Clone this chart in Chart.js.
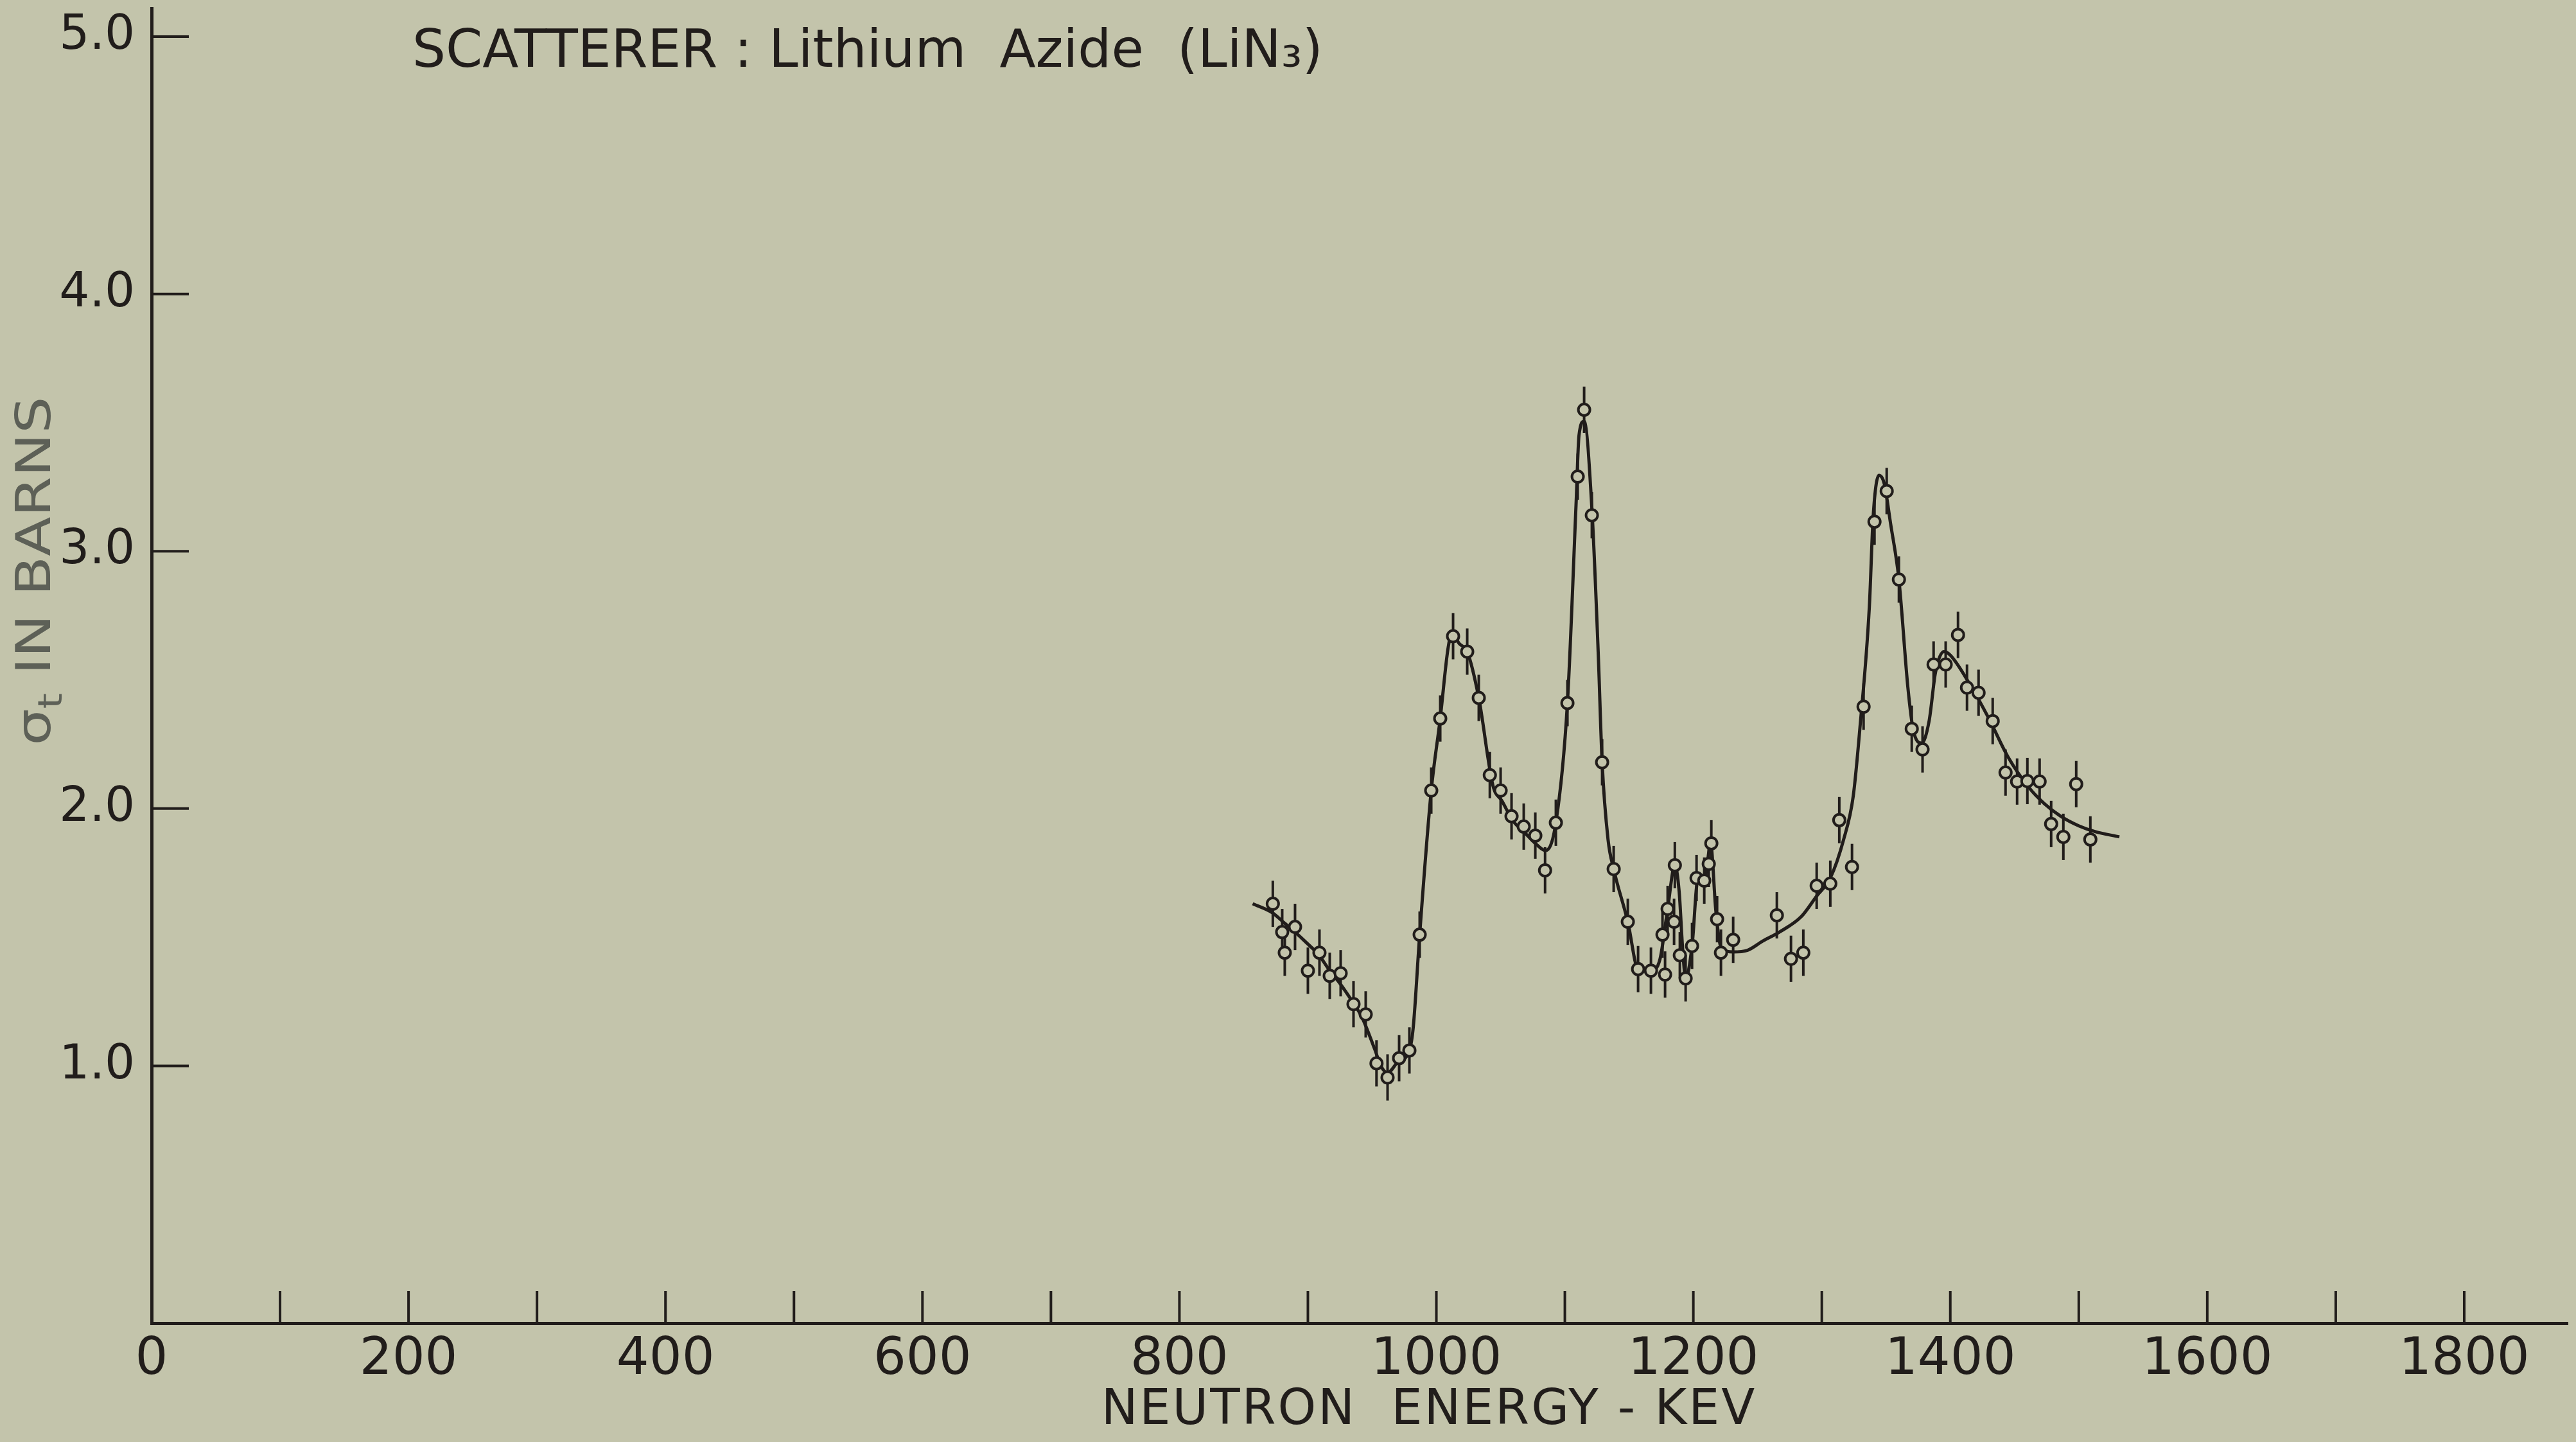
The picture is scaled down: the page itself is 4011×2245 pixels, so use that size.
<!DOCTYPE html>
<html>
<head>
<meta charset="utf-8">
<title>Scatterer: Lithium Azide (LiN3)</title>
<script src="https://cdn.jsdelivr.net/npm/chart.js@4.4.1/dist/chart.umd.min.js"></script>
<style>
  html, body { margin: 0; padding: 0; background: #c3c4ab; }
  #chart { display: block; }
</style>
</head>
<body>
<canvas id="chart" width="4011" height="2245"></canvas>
<script>
// measured points (neutron energy in keV, total cross section in barns)
const pointEnergy = [
    872.7, 880, 882, 890, 900, 909, 917, 925.5, 935.5, 945,
    953.4, 962, 971, 979, 987, 996, 1003, 1013, 1024, 1033,
    1041.6, 1050, 1058.5, 1068, 1077, 1084.6, 1093, 1102, 1110, 1115,
    1121, 1129, 1138, 1149, 1157, 1167, 1176, 1178, 1180, 1185,
    1185.6, 1189.5, 1194, 1199, 1202.5, 1208.5, 1212, 1214, 1218.5, 1221.5,
    1231, 1265, 1276, 1285.6, 1296, 1306.6, 1313.6, 1323.5, 1332.5, 1341,
    1350.5, 1360, 1370, 1378.4, 1387, 1396.4, 1406, 1413, 1422, 1433,
    1443, 1452, 1460, 1469.5, 1478.5, 1488, 1498, 1509
];
const pointSigma = [
    1.63, 1.52, 1.44, 1.54, 1.37, 1.44, 1.35, 1.36, 1.24, 1.20,
    1.01, 0.955, 1.03, 1.06, 1.51, 2.07, 2.35, 2.67, 2.61, 2.43,
    2.13, 2.07, 1.97, 1.93, 1.895, 1.76, 1.945, 2.41, 3.29, 3.55,
    3.14, 2.18, 1.765, 1.56, 1.376, 1.37, 1.51, 1.355, 1.61, 1.56,
    1.78, 1.43, 1.34, 1.466, 1.73, 1.72, 1.785, 1.865, 1.57, 1.44,
    1.49, 1.585, 1.416, 1.44, 1.70, 1.708, 1.955, 1.773, 2.396, 3.115,
    3.234, 2.89, 2.31, 2.23, 2.56, 2.56, 2.675, 2.47, 2.45, 2.34,
    2.14, 2.105, 2.107, 2.105, 1.94, 1.89, 2.095, 1.88
];
const errSigma = 0.09;

// hand drawn smooth curve through the points
const curveEnergy = [
    857, 872, 882, 890, 898.6, 908.6, 917, 925, 935, 942,
    952, 957, 962, 970, 979, 982, 987, 996, 1003, 1009,
    1012, 1018, 1024, 1033, 1044, 1051, 1060, 1068, 1078, 1085,
    1093, 1102, 1108.7, 1111, 1115, 1121, 1126, 1129, 1133.6, 1138,
    1149, 1157, 1167, 1174, 1180, 1185.6, 1189, 1191.6, 1194, 1199,
    1203.5, 1208.5, 1213.5, 1217.5, 1221.6, 1231, 1242, 1254, 1267, 1284,
    1296, 1306.6, 1317, 1324.5, 1329.6, 1337, 1340, 1344.5, 1348.5, 1353.6,
    1360, 1367, 1371, 1377.7, 1383.5, 1388.5, 1395, 1400, 1416.7, 1430,
    1445, 1461.5, 1473, 1486, 1500, 1513, 1531.6
];
const curveSigma = [
    1.63, 1.596, 1.554, 1.52, 1.48, 1.43, 1.37, 1.32, 1.247, 1.19,
    1.065, 0.998, 0.973, 1.015, 1.06, 1.15, 1.51, 2.07, 2.35, 2.62,
    2.68, 2.64, 2.61, 2.43, 2.09, 2.03, 1.95, 1.91, 1.86, 1.837,
    1.945, 2.41, 3.18, 3.45, 3.505, 3.17, 2.6, 2.18, 1.88, 1.765,
    1.56, 1.376, 1.37, 1.414, 1.61, 1.78, 1.675, 1.46, 1.34, 1.466,
    1.72, 1.72, 1.86, 1.604, 1.46, 1.443, 1.449, 1.485, 1.52, 1.58,
    1.66, 1.73, 1.88, 2.05, 2.31, 2.785, 3.137, 3.295, 3.264, 3.105,
    2.89, 2.47, 2.31, 2.254, 2.34, 2.53, 2.61, 2.596, 2.47, 2.35,
    2.2, 2.08, 2.02, 1.97, 1.933, 1.91, 1.89
];

// labelled ticks
const xLabelValues = [0, 200, 400, 600, 800, 1000, 1200, 1400, 1600, 1800];
const yLabelValues = [1, 2, 3, 4, 5];

const inkColor = '#211d1b';
const paperColor = '#c3c4ab';

Chart.defaults.font.family = "'DejaVu Sans', sans-serif";

const sketchPlugin = {
    id: 'sketch',
    // error bars go under the open circles, over the curve
    beforeDatasetDraw(chart, args) {
        if (args.index !== 0) return;
        const ctx = chart.ctx;
        const x = chart.scales.x, y = chart.scales.y;
        ctx.save();
        ctx.strokeStyle = inkColor;
        ctx.lineWidth = 4;
        for (let i = 0; i < pointEnergy.length; i++) {
            const px = x.getPixelForValue(pointEnergy[i]);
            ctx.beginPath();
            ctx.moveTo(px, y.getPixelForValue(pointSigma[i] - errSigma));
            ctx.lineTo(px, y.getPixelForValue(pointSigma[i] + errSigma));
            ctx.stroke();
        }
        ctx.restore();
    },
    afterDraw(chart) {
        const ctx = chart.ctx;
        const x = chart.scales.x, y = chart.scales.y;
        const area = chart.chartArea;
        ctx.save();
        ctx.strokeStyle = inkColor;
        ctx.lineWidth = 4;

        // tick marks point into the plot
        x.ticks.forEach(t => {
            if (t.value === 0) return;
            const px = x.getPixelForValue(t.value);
            ctx.beginPath();
            ctx.moveTo(px, area.bottom);
            ctx.lineTo(px, area.bottom - 50);
            ctx.stroke();
        });
        y.ticks.forEach(t => {
            if (t.value === 0) return;
            const py = y.getPixelForValue(t.value);
            ctx.beginPath();
            ctx.moveTo(area.left, py);
            ctx.lineTo(area.left + 58, py);
            ctx.stroke();
        });

        // title inside the plot
        ctx.fillStyle = inkColor;
        ctx.font = "82px 'DejaVu Sans'";
        ctx.textAlign = 'left';
        ctx.textBaseline = 'alphabetic';
        ctx.fillText('SCATTERER : Lithium  Azide  (LiN\u2083)', area.left + 406, 104);

        // x axis title
        ctx.font = "76px 'DejaVu Sans'";
        ctx.textAlign = 'center';
        ctx.letterSpacing = '3px';
        ctx.fillText('NEUTRON  ENERGY - KEV', 2225, 2217);
        ctx.letterSpacing = '0px';

        // y axis title, sigma with subscript t, stretched along the text
        ctx.fillStyle = '#5d6057';
        ctx.translate(78, 889);
        ctx.rotate(-Math.PI / 2);
        ctx.scale(1.2, 1);
        const big = "75px 'DejaVu Sans'";
        const small = "52px 'DejaVu Sans'";
        ctx.font = big;
        const wSig = ctx.measureText('\u03c3').width;
        const wRest = ctx.measureText(' IN BARNS').width;
        ctx.font = small;
        const wT = ctx.measureText('t').width;
        let cx = -(wSig + wT + wRest) / 2;
        ctx.textAlign = 'left';
        ctx.font = big;
        ctx.fillText('\u03c3', cx, 0);
        cx += wSig;
        ctx.font = small;
        ctx.fillText('t', cx, 18);
        cx += wT;
        ctx.font = big;
        ctx.fillText(' IN BARNS', cx, 0);
        ctx.restore();
    }
};

new Chart(document.getElementById('chart'), {
    type: 'scatter',
    data: {
        datasets: [{
            label: 'measured',
            order: 0,
            data: pointEnergy.map((e, i) => ({x: e, y: pointSigma[i]})),
            pointRadius: 9,
            pointBorderWidth: 4,
            pointBackgroundColor: paperColor,
            pointBorderColor: inkColor,
            showLine: false
        }, {
            label: 'curve',
            order: 1,
            data: curveEnergy.map((e, i) => ({x: e, y: curveSigma[i]})),
            showLine: true,
            pointRadius: 0,
            borderColor: inkColor,
            borderWidth: 5,
            cubicInterpolationMode: 'monotone'
        }]
    },
    options: {
        responsive: false,
        devicePixelRatio: 1,
        animation: false,
        events: [],
        layout: { padding: 0 },
        plugins: {
            legend: { display: false },
            tooltip: { enabled: false }
        },
        scales: {
            x: {
                type: 'linear',
                min: 0,
                max: 1880.5,
                afterFit(scale) {
                    scale.height = 185;
                    scale.paddingLeft = 0;
                    scale.paddingRight = 0;
                },
                grid: { display: false },
                border: { display: true, color: inkColor, width: 5 },
                ticks: {
                    stepSize: 100,
                    includeBounds: false,
                    autoSkip: false,
                    maxRotation: 0,
                    padding: 2,
                    color: inkColor,
                    font: { size: 80 },
                    callback: v => xLabelValues.includes(v) ? String(v) : ''
                }
            },
            y: {
                type: 'linear',
                min: 0,
                max: 5.11,
                afterFit(scale) {
                    scale.width = 236;
                    scale.paddingTop = 0;
                    scale.paddingBottom = 0;
                },
                grid: { display: false },
                border: { display: true, color: inkColor, width: 5 },
                ticks: {
                    stepSize: 1,
                    includeBounds: false,
                    padding: 18,
                    color: inkColor,
                    font: { size: 74 },
                    callback: v => yLabelValues.includes(v) ? v.toFixed(1) : ''
                }
            }
        }
    },
    plugins: [sketchPlugin]
});
</script>
</body>
</html>
